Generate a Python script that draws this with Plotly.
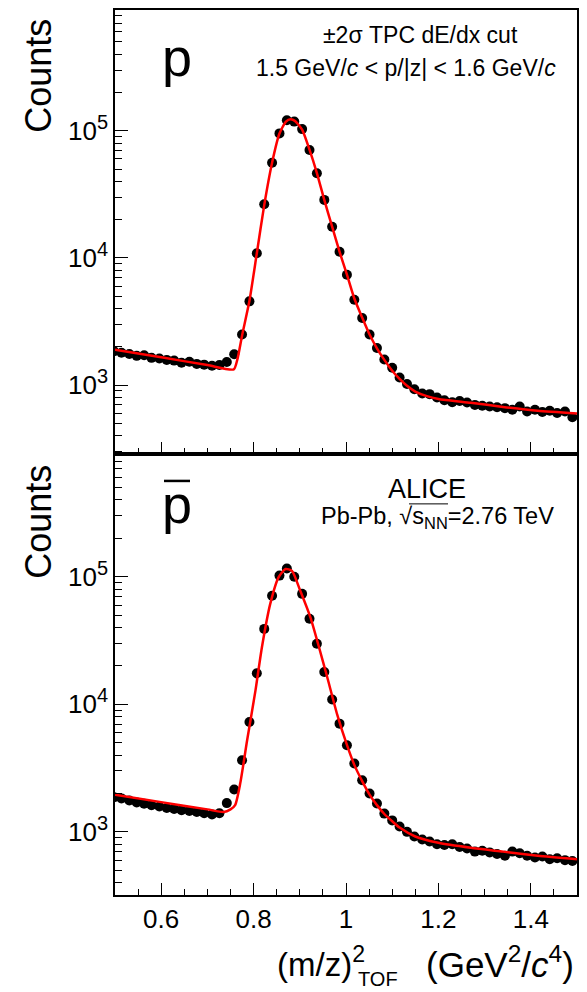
import plotly.graph_objects as go

# ---------------- data ----------------
mass2 = [0.498, 0.514, 0.531, 0.547, 0.563, 0.579, 0.596, 0.612, 0.628, 0.644,
         0.661, 0.677, 0.693, 0.710, 0.726, 0.742, 0.758, 0.775, 0.791, 0.807,
         0.823, 0.840, 0.856, 0.872, 0.888, 0.905, 0.921, 0.937, 0.953, 0.970,
         0.986, 1.002, 1.018, 1.035, 1.051, 1.067, 1.083, 1.100, 1.116, 1.132,
         1.148, 1.165, 1.181, 1.197, 1.213, 1.230, 1.246, 1.262, 1.279, 1.295,
         1.311, 1.327, 1.344, 1.360, 1.376, 1.392, 1.409, 1.425, 1.441, 1.457,
         1.474, 1.490]

counts_p = [1850, 1800, 1760, 1700, 1720, 1640, 1620, 1580, 1560, 1500,
            1530, 1470, 1450, 1420, 1440, 1520, 1750, 2500, 4560, 10900,
            26400, 56100, 95300, 121000, 118000, 103000, 70600, 46300, 28600, 17600,
            11200, 7380, 4700, 3370, 2500, 1960, 1590, 1370, 1150, 1020,
            930, 860, 850, 800, 760, 735, 750, 730, 700, 690,
            680, 670, 660, 640, 680, 620, 640, 615, 630, 605,
            620, 560]

counts_pbar = [1870, 1830, 1760, 1700, 1660, 1620, 1580, 1540, 1510, 1480,
               1460, 1430, 1400, 1370, 1400, 1680, 2150, 3640, 7260, 17500,
               39000, 71000, 102000, 116000, 100000, 73400, 46800, 29800, 17900, 10900,
               7050, 4770, 3430, 2540, 2000, 1670, 1390, 1230, 1100, 1000,
               920, 870, 840, 800, 790, 800, 760, 740, 700, 710,
               690, 670, 650, 700, 680, 650, 630, 640, 610, 620,
               600, 590]

fit_x_p = [0.50, 0.60, 0.70, 0.757, 0.765, 0.775, 0.791, 0.807, 0.823, 0.840,
           0.856, 0.870, 0.880, 0.890, 0.905, 0.921, 0.937, 0.953, 0.970, 0.986,
           1.002, 1.018, 1.035, 1.051, 1.067, 1.083, 1.100, 1.116, 1.132, 1.150,
           1.175, 1.200, 1.270, 1.340, 1.415, 1.500]
fit_y_p = [1900, 1655, 1440, 1330, 1600, 2450, 4600, 10900, 26000, 56000,
           95000, 118000, 123000, 119000, 102000, 71000, 46500, 28600, 17600, 11200,
           7400, 4800, 3400, 2500, 1950, 1580, 1300, 1120, 990, 890,
           820, 780, 727, 675, 630, 600]

fit_x_pbar = [0.50, 0.60, 0.70, 0.735, 0.750, 0.760, 0.771, 0.786, 0.804, 0.818,
              0.836, 0.854, 0.869, 0.883, 0.901, 0.923, 0.941, 0.959, 0.981, 1.002,
              1.018, 1.035, 1.051, 1.067, 1.083, 1.100, 1.116, 1.150, 1.200, 1.270,
              1.340, 1.415, 1.500]
fit_y_pbar = [1950, 1710, 1500, 1430, 1500, 1620, 2390, 5220, 12800, 28000,
              61200, 98900, 115000, 111000, 77600, 48000, 28500, 16500, 8300, 4800,
              3350, 2500, 1960, 1620, 1380, 1210, 1080, 920, 820, 750,
              700, 650, 610]

half_bin = 0.008

y_tickvals = [1e3, 1e4, 1e5]
y_ticktext = ["10<sup><span style='font-size:20px'>3</span></sup>",
              "10<sup><span style='font-size:20px'>4</span></sup>",
              "10<sup><span style='font-size:20px'>5</span></sup>"]
y_minor_vals = [m * 10 ** e for e in (2, 3, 4, 5) for m in (2, 3, 4, 5, 6, 7, 8, 9)]
x_tickvals = [0.6, 0.8, 1.0, 1.2, 1.4]
x_ticktext = ["0.6", "0.8", "1", "1.2", "1.4"]

# ---------------- figure ----------------
FONT = "Liberation Sans, Arial, Helvetica, sans-serif"
fig = go.Figure()

def add_panel(xa, ya, xs, ys, fx, fy):
    fig.add_trace(go.Scatter(
        x=xs, y=ys, mode="markers",
        marker=dict(symbol="circle", size=10, color="black"),
        error_x=dict(type="constant", value=half_bin, color="black", thickness=1, width=0),
        xaxis=xa, yaxis=ya, showlegend=False, cliponaxis=True))
    fig.add_trace(go.Scatter(
        x=fx, y=fy, mode="lines",
        line=dict(color="red", width=2.5, shape="spline", smoothing=0.6),
        xaxis=xa, yaxis=ya, showlegend=False))

add_panel("x", "y", mass2, counts_p, fit_x_p, fit_y_p)
add_panel("x2", "y2", mass2, counts_pbar, fit_x_pbar, fit_y_pbar)

W, H = 587, 992
ml, mr, mt, mb = 115, 10, 8, 97
PW, PH = W - ml - mr, H - mt - mb
split = (895 - 453) / PH

common_x = dict(range=[0.5, 1.5], showgrid=False, zeroline=False,
                showline=True, linecolor="black", linewidth=1.5, mirror=True,
                ticks="inside", ticklen=12, tickwidth=1.3, tickcolor="black",
                tickvals=x_tickvals, ticktext=x_ticktext,
                minor=dict(ticks="inside", ticklen=6, dtick=0.05, tick0=0.5,
                           tickcolor="black", tickwidth=1.3, showgrid=False),
                tickfont=dict(family=FONT, size=26, color="black"))
common_y = dict(type="log", showgrid=False, zeroline=False,
                showline=True, linecolor="black", linewidth=1.5, mirror=True,
                ticks="inside", ticklen=13, tickwidth=1.3, tickcolor="black",
                tickvals=y_tickvals, ticktext=y_ticktext,
                minor=dict(ticks="inside", ticklen=7, tickcolor="black",
                           tickvals=y_minor_vals, tickwidth=1.3, showgrid=False),
                tickfont=dict(family=FONT, size=26, color="black"))

fig.update_layout(
    width=W, height=H,
    margin=dict(l=ml, r=mr, t=mt, b=mb),
    paper_bgcolor="white", plot_bgcolor="white",
    font=dict(family=FONT, color="black"),
    xaxis=dict(**common_x, anchor="y", showticklabels=False),
    yaxis=dict(**common_y, domain=[split, 1], range=[2.459, 5.949], anchor="x"),
    xaxis2=dict(**common_x, anchor="y2", matches="x"),
    yaxis2=dict(**common_y, domain=[0, split], range=[2.505, 5.962], anchor="x2"),
)

def px_to_paper(xp, yp):
    return (xp - ml) / PW, 1 - (yp - mt) / PH

anns = []
def ann(text, xp, yp, size, xanchor="center", yanchor="middle", angle=0):
    x, y = px_to_paper(xp, yp)
    anns.append(dict(text=text, x=x, y=y, xref="paper", yref="paper",
                     xanchor=xanchor, yanchor=yanchor, showarrow=False,
                     textangle=angle, font=dict(family=FONT, size=size, color="black")))

ann("Counts", 39, 74, 36, angle=-90)
ann("Counts", 39, 521, 36, angle=-90)
ann("p", 177, 55, 54)
ann("p", 177, 503, 54)
ann("±2σ TPC dE/dx cut", 420, 33, 23)
ann("1.5 GeV/<i>c</i> < p/|z| < 1.6 GeV/<i>c</i>", 406, 66, 23)
ann("ALICE", 427, 488, 27)
ann("Pb-Pb, √s<sub>NN</sub>=2.76 TeV", 437, 517, 23.5)
# x-axis title, with stacked super/subscript
ann("(m/z)<sup>2</sup>", 367, 962, 33, xanchor="right")
ann("TOF", 356, 979, 20, xanchor="left")
ann("(GeV<sup>2</sup>/<i>c</i><sup>4</sup>)", 576, 962, 35, xanchor="right")
fig.update_layout(annotations=anns)

# overline for anti-proton symbol
x0, y0 = px_to_paper(164, 480)
x1, _ = px_to_paper(190, 480)
fig.add_shape(type="line", xref="paper", yref="paper", x0=x0, x1=x1, y0=y0, y1=y0,
              line=dict(color="black", width=2.5))
# overline of the square root in sqrt(s_NN)
x0, y0 = px_to_paper(409, 503)
x1, _ = px_to_paper(448, 503)
fig.add_shape(type="line", xref="paper", yref="paper", x0=x0, x1=x1, y0=y0, y1=y0,
              line=dict(color="black", width=1))

fig.write_html("out.html")
